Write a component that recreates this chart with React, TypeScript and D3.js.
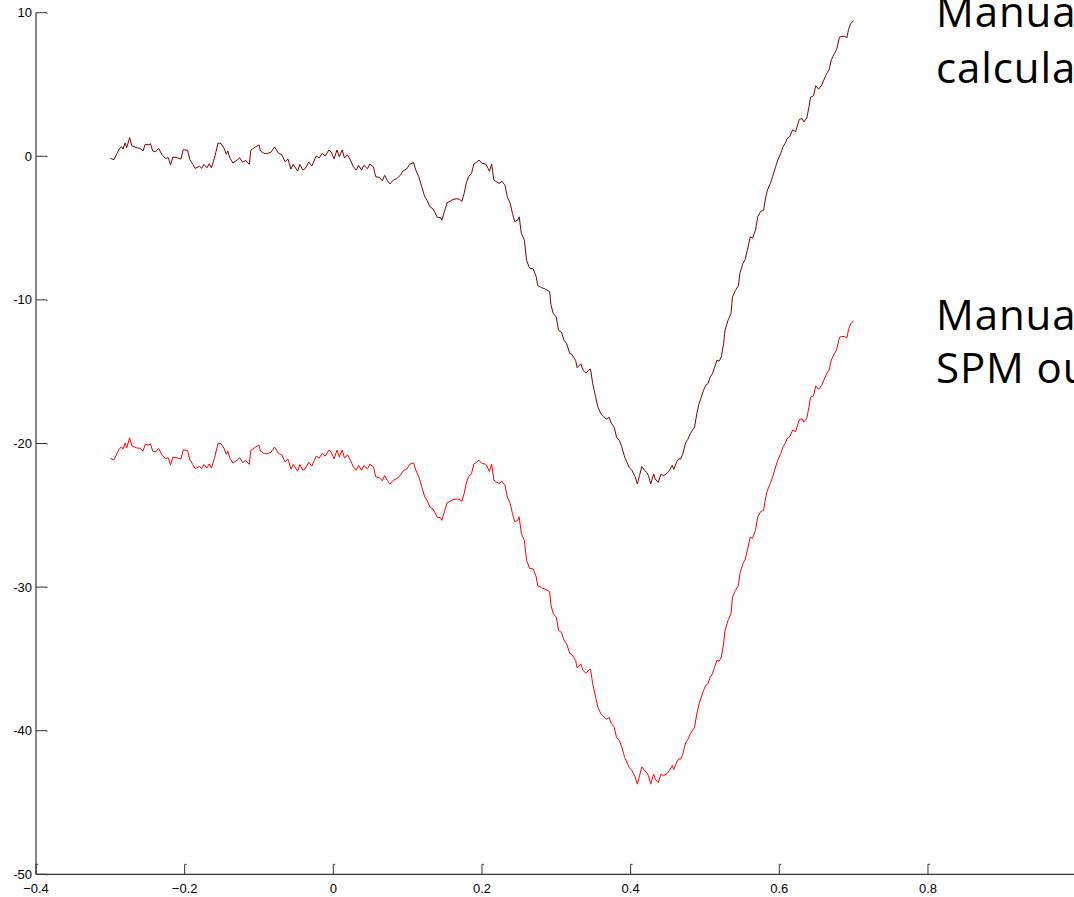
import React from "react";
import * as d3 from "d3";

const xValues = [
  -0.300, -0.295, -0.291, -0.288, -0.285, -0.283, -0.280, -0.278, -0.274, -0.271,
  -0.265, -0.260, -0.256, -0.253, -0.248, -0.246, -0.243, -0.239, -0.235, -0.231,
  -0.226, -0.222, -0.219, -0.216, -0.210, -0.205, -0.202, -0.196, -0.193, -0.189,
  -0.186, -0.180, -0.177, -0.174, -0.170, -0.167, -0.164, -0.160, -0.155, -0.151,
  -0.147, -0.144, -0.142, -0.139, -0.135, -0.129, -0.126, -0.122, -0.118, -0.113,
  -0.111, -0.105, -0.100, -0.098, -0.094, -0.090, -0.084, -0.079, -0.074, -0.069,
  -0.065, -0.061, -0.057, -0.054, -0.048, -0.045, -0.041, -0.038, -0.033, -0.029,
  -0.023, -0.019, -0.015, -0.011, -0.006, -0.003, 0.001, 0.005, 0.008, 0.012,
  0.015, 0.019, 0.023, 0.027, 0.031, 0.034, 0.038, 0.041, 0.046, 0.049,
  0.054, 0.057, 0.062, 0.066, 0.069, 0.073, 0.076, 0.081, 0.085, 0.090,
  0.094, 0.099, 0.103, 0.108, 0.111, 0.115, 0.119, 0.123, 0.126, 0.130,
  0.134, 0.137, 0.140, 0.144, 0.146, 0.150, 0.153, 0.158, 0.161, 0.166,
  0.170, 0.173, 0.176, 0.179, 0.182, 0.186, 0.189, 0.193, 0.196, 0.200,
  0.205, 0.208, 0.210, 0.213, 0.216, 0.220, 0.223, 0.227, 0.231, 0.234,
  0.238, 0.241, 0.244, 0.248, 0.250, 0.253, 0.257, 0.260, 0.264, 0.269,
  0.273, 0.275, 0.280, 0.285, 0.291, 0.293, 0.296, 0.300, 0.303, 0.307,
  0.310, 0.314, 0.318, 0.321, 0.326, 0.328, 0.333, 0.336, 0.340, 0.344,
  0.346, 0.349, 0.353, 0.356, 0.360, 0.363, 0.367, 0.371, 0.374, 0.378,
  0.381, 0.385, 0.388, 0.392, 0.396, 0.398, 0.402, 0.404, 0.406, 0.409,
  0.412, 0.415, 0.419, 0.422, 0.424, 0.427, 0.431, 0.433, 0.437, 0.441,
  0.444, 0.449, 0.452, 0.456, 0.458, 0.462, 0.465, 0.467, 0.470, 0.474,
  0.477, 0.480, 0.484, 0.486, 0.489, 0.492, 0.495, 0.498, 0.501, 0.504,
  0.507, 0.510, 0.513, 0.516, 0.519, 0.522, 0.525, 0.527, 0.531, 0.535,
  0.537, 0.541, 0.545, 0.547, 0.551, 0.554, 0.557, 0.561, 0.564, 0.568,
  0.571, 0.575, 0.579, 0.581, 0.584, 0.588, 0.591, 0.595, 0.598, 0.602,
  0.605, 0.608, 0.611, 0.614, 0.618, 0.622, 0.624, 0.627, 0.631, 0.633,
  0.637, 0.640, 0.642, 0.646, 0.649, 0.653, 0.657, 0.660, 0.664, 0.667,
  0.670, 0.674, 0.677, 0.681, 0.684, 0.688, 0.691, 0.693, 0.696, 0.700,
];

// Manual calculation (dark red trace)
const manualValues = [
  -0.14, -0.24, 0.21, 0.51, 0.67, 0.51, 0.93, 0.60, 1.30, 0.74,
  0.60, 0.56, 0.37, 0.84, 0.79, 0.88, 0.37, 0.32, 0.56, 0.14,
  -0.14, -0.10, -0.61, -0.05, -0.10, -0.19, 0.46, 0.42, -0.24, -0.56,
  -0.84, -0.70, -0.84, -0.56, -0.80, -0.52, -0.80, -0.14, 0.93, 0.88,
  0.56, 0.14, 0.37, -0.14, -0.47, -0.24, -0.10, -0.42, -0.28, -0.56,
  0.42, 0.65, 0.79, 0.37, 0.23, 0.18, 0.28, 0.65, 0.23, 0.09,
  -0.38, -0.19, -0.89, -0.56, -1.03, -0.56, -0.96, -0.87, -0.40, -0.68,
  0.02, -0.12, 0.21, 0.02, 0.44, 0.30, -0.17, 0.44, -0.03, 0.44,
  -0.12, 0.11, -0.26, -0.73, -0.96, -0.63, -0.96, -0.63, -0.87, -0.54,
  -0.73, -1.42, -1.47, -1.70, -1.33, -1.70, -1.93, -1.65, -1.56, -1.33,
  -1.00, -0.87, -0.54, -0.45, -0.96, -1.42, -2.12, -2.82, -3.05, -3.52,
  -3.66, -3.94, -4.26, -4.26, -4.45, -3.75, -3.24, -3.10, -3.00, -2.96,
  -3.00, -3.14, -2.58, -1.84, -1.42, -1.19, -0.54, -0.40, -0.26, -0.49,
  -0.54, -0.82, -1.05, -0.54, -1.65, -1.79, -1.88, -1.74, -2.02, -2.82,
  -3.28, -3.98, -4.54, -4.45, -4.21, -5.37, -5.84, -7.24, -7.79, -7.84,
  -8.40, -9.00, -9.14, -9.24, -9.42, -10.40, -10.96, -11.19, -12.12, -12.26,
  -12.77, -13.05, -13.71, -13.80, -14.21, -14.72, -14.45, -14.91, -15.10, -14.86,
  -14.82, -15.84, -16.78, -17.47, -17.93, -18.07, -18.31, -18.17, -18.59, -18.87,
  -19.57, -19.80, -20.22, -20.96, -21.42, -21.66, -21.89, -22.12, -22.31, -22.82,
  -22.24, -21.61, -21.89, -22.03, -22.24, -22.82, -22.12, -22.47, -22.71, -22.12,
  -22.24, -22.08, -21.89, -21.52, -21.80, -21.28, -21.05, -21.10, -20.77, -19.94,
  -19.71, -19.33, -19.01, -18.87, -17.93, -17.24, -16.78, -16.31, -15.94, -15.84,
  -15.38, -15.14, -14.68, -14.21, -14.26, -13.98, -13.05, -12.12, -11.42, -10.96,
  -9.80, -9.33, -9.00, -8.16, -7.47, -7.19, -6.54, -5.61, -5.70, -5.14,
  -4.21, -3.84, -3.75, -3.05, -2.35, -1.88, -1.42, -0.73, -0.26, 0.21,
  0.67, 0.91, 1.28, 1.37, 1.84, 1.72, 2.07, 2.58, 2.62, 2.39,
  2.67, 3.46, 4.12, 4.21, 4.91, 4.68, 4.95, 5.32, 5.79, 6.02,
  6.72, 7.14, 7.42, 8.30, 8.35, 8.35, 8.26, 8.81, 9.23, 9.46,
];

// Manual vs SPM output (red trace)
const spmValues = [
  -21.04, -21.14, -20.69, -20.39, -20.23, -20.39, -19.97, -20.30, -19.60, -20.16,
  -20.30, -20.34, -20.53, -20.06, -20.11, -20.02, -20.53, -20.58, -20.34, -20.76,
  -21.04, -21.00, -21.51, -20.95, -21.00, -21.09, -20.44, -20.48, -21.14, -21.46,
  -21.74, -21.60, -21.74, -21.46, -21.70, -21.42, -21.70, -21.04, -19.97, -20.02,
  -20.34, -20.76, -20.53, -21.04, -21.37, -21.14, -21.00, -21.32, -21.18, -21.46,
  -20.48, -20.25, -20.11, -20.53, -20.67, -20.72, -20.62, -20.25, -20.67, -20.81,
  -21.28, -21.09, -21.79, -21.46, -21.93, -21.46, -21.86, -21.77, -21.30, -21.58,
  -20.88, -21.02, -20.69, -20.88, -20.46, -20.60, -21.07, -20.46, -20.93, -20.46,
  -21.02, -20.79, -21.16, -21.63, -21.86, -21.53, -21.86, -21.53, -21.77, -21.44,
  -21.63, -22.32, -22.37, -22.60, -22.23, -22.60, -22.83, -22.55, -22.46, -22.23,
  -21.90, -21.77, -21.44, -21.35, -21.86, -22.32, -23.02, -23.72, -23.95, -24.42,
  -24.56, -24.84, -25.16, -25.16, -25.35, -24.65, -24.14, -24.00, -23.90, -23.86,
  -23.90, -24.04, -23.48, -22.74, -22.32, -22.09, -21.44, -21.30, -21.16, -21.39,
  -21.44, -21.72, -21.95, -21.44, -22.55, -22.69, -22.78, -22.64, -22.92, -23.72,
  -24.18, -24.88, -25.44, -25.35, -25.11, -26.27, -26.74, -28.14, -28.69, -28.74,
  -29.30, -29.90, -30.04, -30.14, -30.32, -31.30, -31.86, -32.09, -33.02, -33.16,
  -33.67, -33.95, -34.61, -34.70, -35.11, -35.62, -35.35, -35.81, -36.00, -35.76,
  -35.72, -36.74, -37.68, -38.37, -38.83, -38.97, -39.21, -39.07, -39.49, -39.77,
  -40.47, -40.70, -41.12, -41.86, -42.32, -42.56, -42.79, -43.02, -43.21, -43.72,
  -43.14, -42.51, -42.79, -42.93, -43.14, -43.72, -43.02, -43.37, -43.61, -43.02,
  -43.14, -42.98, -42.79, -42.42, -42.70, -42.18, -41.95, -42.00, -41.67, -40.84,
  -40.61, -40.23, -39.91, -39.77, -38.83, -38.14, -37.68, -37.21, -36.84, -36.74,
  -36.28, -36.04, -35.58, -35.11, -35.16, -34.88, -33.95, -33.02, -32.32, -31.86,
  -30.70, -30.23, -29.90, -29.06, -28.37, -28.09, -27.44, -26.51, -26.60, -26.04,
  -25.11, -24.74, -24.65, -23.95, -23.25, -22.78, -22.32, -21.63, -21.16, -20.69,
  -20.23, -19.99, -19.62, -19.53, -19.06, -19.18, -18.83, -18.32, -18.28, -18.51,
  -18.23, -17.44, -16.78, -16.69, -15.99, -16.22, -15.95, -15.58, -15.11, -14.88,
  -14.18, -13.76, -13.48, -12.60, -12.55, -12.55, -12.64, -12.09, -11.67, -11.44,
];

const xTicks = [-0.4, -0.2, 0, 0.2, 0.4, 0.6, 0.8];
const yTicks = [-50, -40, -30, -20, -10, 0, 10];

const annotationTop = ["Manual", "calculation"];
const annotationBottom = ["Manual", "SPM output"];

const W = 1074;
const H = 897;

export default function App() {
  const x = d3.scaleLinear().domain([-0.4, 1.0]).range([36, 36 + 1.4 * 743.3]);
  const y = d3.scaleLinear().domain([-50, 10]).range([874.3, 12.7]);

  const line = d3
    .line<number>()
    .x((_, i) => x(xValues[i]))
    .y((d) => y(d));

  const axisColor = "#333";
  const x0 = x(-0.4);
  const yBase = y(-50);

  return (
    <svg
      width={W}
      height={H}
      style={{ position: "absolute", left: 0, top: 0, overflow: "hidden", background: "#fff" }}
    >
      <rect x={0} y={0} width={W} height={H} fill="#fff" />
      {/* axes */}
      <line x1={x0} x2={x0} y1={y(10)} y2={yBase} stroke={axisColor} strokeWidth={1.2} />
      <line x1={x0} x2={W + 5} y1={yBase} y2={yBase} stroke={axisColor} strokeWidth={1.2} />
      {yTicks.map((t) => (
        <g key={"y" + t}>
          <path
            d={`M${x0},${y(t)} H${x0 + 11} V${y(t) + 1}`}
            fill="none"
            stroke={axisColor}
            strokeWidth={1}
          />
          <text
            x={32}
            y={y(t)}
            dy="0.35em"
            textAnchor="end"
            fontFamily="'Liberation Sans', Arial, sans-serif"
            fontSize={13}
            fill="#000"
          >
            {t}
          </text>
        </g>
      ))}
      {xTicks.map((t) => (
        <g key={"x" + t}>
          <path
            d={`M${x(t)},${yBase} V${yBase - 10} H${x(t) + 2}`}
            fill="none"
            stroke={axisColor}
            strokeWidth={1}
          />
          <text
            x={x(t)}
            y={yBase + 14}
            dy="0.35em"
            textAnchor="middle"
            fontFamily="'Liberation Sans', Arial, sans-serif"
            fontSize={13}
            fill="#000"
          >
            {t === 0 ? "0" : d3.format("")(t)}
          </text>
        </g>
      ))}
      {/* traces */}
      <path d={line(manualValues) || ""} fill="none" stroke="#800000" strokeWidth={1} />
      <path d={line(spmValues) || ""} fill="none" stroke="#ff0000" strokeWidth={1} />
      {/* annotations */}
      <g fontFamily="'Open Sans', sans-serif" fontSize={42} fill="#000" style={{ letterSpacing: "0.9px" }}>
        <text x={936} y={27}>{annotationTop[0]}</text>
        <text x={936} y={83}>{annotationTop[1]}</text>
        <text x={936} y={330}>{annotationBottom[0]}</text>
        <text x={936} y={383}>{annotationBottom[1]}</text>
      </g>
    </svg>
  );
}
